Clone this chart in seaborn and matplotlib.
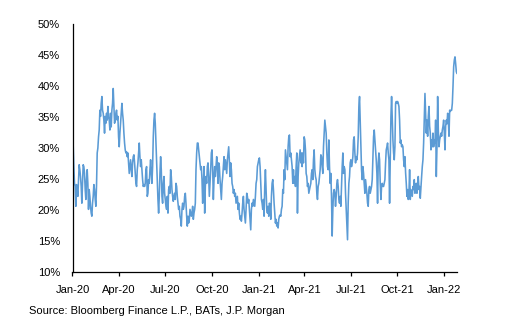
import matplotlib
matplotlib.use("Agg")
import matplotlib.pyplot as plt
import numpy as np
import pandas as pd
import seaborn as sns

# Daily series in chronological chunks (values in %)
vol_part1 = [  # early Jan 2020 - late Apr 2020
    30.2, 30.5, 27.0, 24.3, 23.8, 20.6, 24.1, 23.3, 22.2, 24.9,
    27.3, 26.5, 25.4, 23.8, 21.1, 24.3, 27.3, 27.0, 25.9, 23.3,
    21.7, 24.9, 26.5, 24.3, 20.1, 23.3, 22.2, 20.6, 19.5, 19.0,
    21.1, 22.2, 24.1, 23.3, 21.7, 20.6, 24.0, 29.2, 30.0, 31.8,
    32.9, 36.1, 35.1, 37.2, 38.3, 36.1, 35.6, 34.5, 32.4, 35.1,
    34.0, 35.6, 34.5, 36.7, 35.1, 34.5, 32.9, 35.6, 33.4, 36.1,
    37.2, 39.6, 36.7, 34.0, 34.5, 35.6, 36.1, 34.5, 35.1, 31.8,
    30.2, 32.4, 34.0, 35.6, 37.2, 35.6, 34.5, 32.4, 30.8, 29.7,
    29.2, 29.4, 28.6, 29.2, 27.6, 25.9, 27.0, 28.1, 26.5, 25.4,
    27.6, 28.6,
]
vol_part2 = [  # late Apr 2020 - early Oct 2020
    28.9, 27.6, 25.9, 24.3, 23.8, 26.5, 27.6, 29.2, 30.8, 28.6,
    27.0, 28.1, 26.5, 24.9, 23.8, 24.1, 23.8, 24.3, 26.5, 27.0,
    22.2, 22.7, 24.9, 24.3, 26.5, 28.1, 25.9, 24.3, 27.0, 31.8,
    34.5, 35.6, 34.0, 30.8, 28.1, 24.9, 21.7, 19.5, 22.2, 25.9,
    28.6, 26.5, 22.2, 21.1, 24.3, 25.4, 22.7, 21.7, 20.6, 20.1,
    22.2, 19.5, 23.3, 23.8, 22.7, 26.5, 25.4, 23.3, 22.2, 21.4,
    22.2, 22.7, 21.7, 24.3, 23.8, 22.2, 21.1, 20.1, 20.6, 19.0,
    18.5, 17.4, 20.1, 21.1, 20.1, 20.6, 22.2, 22.7, 21.1, 19.0,
    17.4, 19.0, 17.9, 18.5, 20.1, 19.5, 19.0, 19.5, 20.6, 18.5,
    19.5, 20.1, 21.1, 26.5, 29.2, 30.8,
]
vol_part3 = [  # early Oct 2020 - mid Feb 2021
    30.8, 29.7, 28.6, 27.6, 26.5, 27.0, 24.9, 21.1, 23.8, 27.0,
    19.5, 23.8, 25.4, 24.3, 27.0, 27.6, 25.4, 22.2, 24.3, 26.5,
    29.2, 29.7, 26.5, 21.7, 24.9, 27.0, 25.4, 27.0, 28.6, 27.0,
    24.3, 27.6, 27.0, 24.9, 23.3, 21.7, 24.3, 25.4, 27.0, 28.6,
    26.5, 28.1, 27.0, 25.9, 28.1, 29.2, 30.2, 27.6, 25.4, 27.6,
    26.5, 24.3, 23.8, 22.7, 23.3, 22.2, 22.7, 21.1, 21.7, 22.2,
    20.1, 21.1, 19.5, 18.5, 19.0, 18.2, 19.5, 21.1, 22.2, 20.1,
    19.0, 17.9, 20.1, 22.7, 22.2, 21.1, 21.7, 20.1, 18.5, 16.8,
    20.1, 21.1, 20.6, 21.7, 21.1, 20.6, 22.2, 24.3, 24.9, 27.0,
    27.6, 28.1, 28.4, 27.0, 24.3, 21.7,
]
vol_part4 = [  # mid Feb 2021 - late Jun 2021
    21.1, 20.1, 21.7, 19.0, 23.8, 26.5, 23.3, 20.1, 19.5, 20.6,
    19.0, 21.1, 20.6, 18.5, 22.2, 24.3, 24.9, 23.3, 21.1, 19.5,
    17.9, 18.5, 17.4, 17.9, 17.1, 18.5, 19.0, 19.2, 19.0, 20.1,
    20.6, 23.3, 22.7, 26.5, 24.9, 29.7, 28.6, 27.6, 26.5, 30.2,
    31.8, 32.1, 28.6, 29.2, 28.1, 27.0, 24.3, 26.5, 24.3, 25.4,
    23.8, 27.0, 29.2, 19.5, 25.4, 27.6, 28.6, 29.7, 27.6, 29.2,
    27.0, 29.2, 27.6, 31.8, 31.3, 29.7, 25.9, 25.4, 23.8, 24.3,
    22.7, 23.3, 23.8, 24.3, 25.9, 26.5, 24.9, 28.1, 29.7, 26.5,
    25.4, 24.9, 22.7, 21.7, 23.8, 24.3, 25.4, 26.5, 28.9, 28.6,
    27.0, 25.9, 30.2, 32.4, 34.5, 33.4,
]
vol_part5 = [  # late Jun 2021 - early Oct 2021
    32.4, 29.2, 27.0, 26.5, 31.3, 27.0, 24.3, 25.9, 22.2, 15.8,
    20.1, 22.7, 23.3, 22.7, 20.6, 22.2, 24.3, 24.9, 23.8, 21.7,
    21.1, 22.2, 20.6, 23.8, 27.0, 29.2, 25.9, 27.0, 26.5, 22.7,
    20.1, 17.4, 15.2, 21.1, 24.3, 25.4, 27.6, 28.1, 27.0, 27.6,
    28.6, 31.3, 31.8, 29.2, 27.6, 28.6, 28.1, 29.2, 31.8, 36.7,
    38.3, 34.5, 30.2, 26.5, 24.9, 27.0, 25.9, 24.3, 22.7, 24.9,
    23.8, 22.7, 21.1, 20.6, 23.3, 23.8, 22.7, 23.3, 23.8, 24.9,
    28.6, 31.8, 32.9, 31.3, 29.7, 28.1, 25.9, 21.1, 27.6, 29.2,
    28.1, 24.3, 21.7, 23.8, 24.3, 23.8, 23.8, 24.3, 24.9, 27.6,
    29.7, 30.2, 30.8, 29.2, 28.1, 21.1,
]
vol_part6 = [  # early Oct 2021 - late Jan 2022
    28.0, 35.0, 38.3, 34.5, 31.3, 29.2, 28.1, 30.2, 37.2, 37.5,
    37.2, 37.5, 37.2, 36.7, 34.5, 30.8, 31.3, 30.2, 30.5, 30.2,
    28.1, 27.0, 28.6, 26.0, 24.3, 22.2, 23.3, 21.7, 22.7, 26.5,
    21.7, 23.3, 22.7, 22.2, 23.8, 23.3, 24.9, 22.7, 23.8, 24.3,
    22.7, 23.8, 25.4, 23.3, 23.8, 21.9, 23.8, 25.4, 27.0, 28.1,
    30.8, 34.5, 38.8, 35.6, 32.4, 34.5, 31.9, 35.1, 36.7, 33.5,
    32.4, 29.7, 31.3, 30.2, 32.4, 30.2, 31.3, 30.8, 34.5, 25.4,
    30.2, 38.3, 32.9, 30.2, 31.3, 31.9, 32.4, 31.9, 32.9, 33.5,
    34.5, 32.4, 29.7, 33.5, 34.5, 33.9, 35.6, 34.5, 31.9, 36.1,
    35.9, 36.1, 36.1, 37.2, 39.9, 43.1, 44.2, 44.7, 43.6, 42.3,
    42.0,
]
start_date = "2020-01-01"
end_date = "2022-01-26"
tick_dates = ["2020-01-01", "2020-04-01", "2020-07-01", "2020-10-01",
              "2021-01-01", "2021-04-01", "2021-07-01", "2021-10-01",
              "2022-01-01"]
tick_labels = ["Jan-20", "Apr-20", "Jul-20", "Oct-20", "Jan-21",
               "Apr-21", "Jul-21", "Oct-21", "Jan-22"]
y_ticks = [10, 15, 20, 25, 30, 35, 40, 45, 50]
source_text = "Source: Bloomberg Finance L.P., BATs, J.P. Morgan"

values = vol_part1 + vol_part2 + vol_part3 + vol_part4 + vol_part5 + vol_part6
dates = pd.date_range(start_date, end_date, periods=len(values))
df = pd.DataFrame({"date": dates, "vol": values})

sns.set_style("white")
plt.rcParams["font.family"] = ["Liberation Sans", "DejaVu Sans"]

fig = plt.figure(figsize=(5.11, 3.30), dpi=100)
ax = fig.add_axes([72.5 / 511, (330 - 272) / 330, (457 - 72.5) / 511, (272 - 24) / 330])

sns.lineplot(data=df, x="date", y="vol", ax=ax, color="#5B9BD5", linewidth=1.15)

ax.set_xlim(pd.Timestamp(start_date), pd.Timestamp(end_date))
ax.set_ylim(10, 50)
ax.set_xticks(pd.to_datetime(tick_dates))
ax.set_xticklabels(tick_labels)
ax.set_yticks(y_ticks)
ax.set_yticklabels([f"{v}%" for v in y_ticks])
ax.set_xlabel("")
ax.set_ylabel("")

for side in ["top", "right"]:
    ax.spines[side].set_visible(False)
for side in ["left", "bottom"]:
    ax.spines[side].set_color("black")
    ax.spines[side].set_linewidth(0.9)

ax.tick_params(axis="y", length=0, pad=9, labelsize=8, labelcolor="black")
ax.tick_params(axis="x", length=3, width=0.9, direction="out", pad=6.5,
               labelsize=8, labelcolor="black", color="black", bottom=True)
ax.grid(False)

fig.text(29 / 511, 1 - 311 / 330, source_text, fontsize=8, color="black",
         ha="left", va="center")

fig.savefig("out.png", dpi=100)
